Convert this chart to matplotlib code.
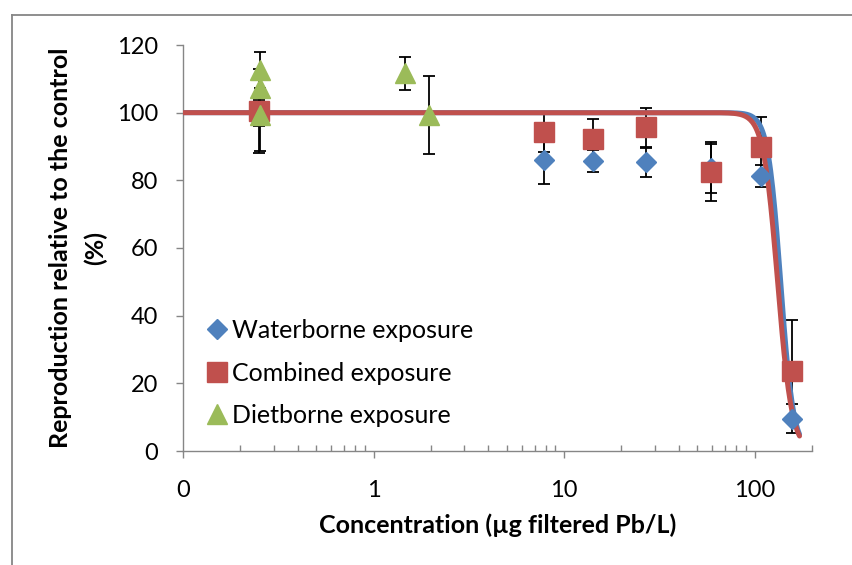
import numpy as np
import matplotlib
matplotlib.use("Agg")
import matplotlib.pyplot as plt
from matplotlib.lines import Line2D
from matplotlib.ticker import FixedLocator, FixedFormatter, NullFormatter

# ---------------- data ----------------
conc = [0.25, 7.8, 14.1, 26.8, 59.2, 108, 157]
water_y = [100, 86.0, 85.7, 85.3, 83.5, 81.3, 9.6]
water_err = [3.8, 7.1, 3.3, 4.4, 7.3, 3.2, 4.4]
comb_y = [100.5, 94.4, 92.1, 95.7, 82.6, 89.8, 23.7]
comb_err = [12.5, 5.9, 5.9, 5.8, 8.8, 8.8, 15.0]
diet_x = [0.254, 0.254, 0.254, 1.46, 1.95]
diet_y = [112.6, 107.2, 99.3, 111.6, 99.3]
diet_err = [5.2, 3.0, 10.6, 4.8, 11.4]

# fitted log-logistic curves (EC50, slope)
water_ec50, water_slope = 137.0, 13.0
comb_ec50, comb_slope = 132.0, 11.6
curve_start, curve_end = 0.1, 172.0

xtick_vals = [0.1, 1, 10, 100]
xtick_labels = ["0", "1", "10", "100"]
ytick_vals = [0, 20, 40, 60, 80, 100, 120]
labels = ["Waterborne exposure", "Combined exposure", "Dietborne exposure"]

BLUE = "#4F81BD"
RED = "#C0504D"
GREEN = "#9BBB59"
GRAY = "#868686"

plt.rcParams["font.family"] = ["Lato", "DejaVu Sans"]

fig = plt.figure(figsize=(8.52, 5.65), dpi=100)
ax = fig.add_axes([183 / 852, 1 - 451 / 565, (812 - 183) / 852, (451 - 45) / 565])

# curves
xc = np.logspace(np.log10(curve_start), np.log10(curve_end), 600)
yw = 100 / (1 + (xc / water_ec50) ** water_slope)
yc = 100 / (1 + (xc / comb_ec50) ** comb_slope)
ax.plot(xc, yw, color=BLUE, lw=3.6, zorder=3, solid_capstyle="round")
ax.plot(xc, yc, color=RED, lw=3.6, zorder=4, solid_capstyle="round")

# error bars
ekw = dict(fmt="none", ecolor="black", elinewidth=1.3, capsize=4, capthick=1.3, zorder=2)
ax.errorbar(conc, water_y, yerr=water_err, **ekw)
ax.errorbar(conc, comb_y, yerr=comb_err, **ekw)
ax.errorbar(diet_x, diet_y, yerr=diet_err, **ekw)

# markers
ax.plot(conc, water_y, ls="none", marker="D", ms=10.5, color=BLUE, mec=BLUE, zorder=5)
ax.plot(conc, comb_y, ls="none", marker="s", ms=14, color=RED, mec=RED, zorder=6)
ax.plot(diet_x, diet_y, ls="none", marker="^", ms=15, color=GREEN, mec=GREEN, zorder=7)

ax.set_xscale("log")
ax.set_xlim(0.1, 200)
ax.set_ylim(0, 120)

ax.xaxis.set_major_locator(FixedLocator(xtick_vals))
ax.xaxis.set_major_formatter(FixedFormatter(xtick_labels))
minor = [m * 10.0 ** e for e in (-1, 0, 1) for m in range(2, 10)] + [200]
ax.xaxis.set_minor_locator(FixedLocator(minor))
ax.xaxis.set_minor_formatter(NullFormatter())
ax.set_yticks(ytick_vals)

for s in ("top", "right"):
    ax.spines[s].set_visible(False)
for s in ("left", "bottom"):
    ax.spines[s].set_color(GRAY)
    ax.spines[s].set_linewidth(1.0)

ax.tick_params(axis="x", which="major", direction="out", length=5, width=1.0,
               color=GRAY, labelsize=17, pad=16)
ax.tick_params(axis="x", which="minor", direction="in", length=4.5, width=1.0, color=GRAY)
ax.tick_params(axis="y", which="major", direction="out", length=5, width=1.0,
               color=GRAY, labelsize=17, pad=13)

ax.set_xlabel("Concentration (µg filtered Pb/L)", fontsize=18, fontweight="bold", labelpad=9)
ax.set_ylabel("Reproduction relative to the control\n(%)", fontsize=18,
              fontweight="bold", labelpad=7, linespacing=1.6)

handles = [
    Line2D([], [], ls="none", marker="D", ms=10.5, color=BLUE),
    Line2D([], [], ls="none", marker="s", ms=14, color=RED),
    Line2D([], [], ls="none", marker="^", ms=15, color=GREEN),
]
ax.legend(handles, labels, loc="lower left", bbox_to_anchor=(0.01, 0.016),
          frameon=False, fontsize=18, handlelength=0.8, handletextpad=0.2,
          labelspacing=0.78, borderaxespad=0.3)

# outer chart border (left and top edges visible)
fig.add_artist(Line2D([12 / 852, 12 / 852], [0, 1 - 15 / 565], color=GRAY, lw=1.3,
                      transform=fig.transFigure))
fig.add_artist(Line2D([12 / 852, 1], [1 - 15 / 565, 1 - 15 / 565], color=GRAY, lw=1.3,
                      transform=fig.transFigure))

fig.savefig("out.png", dpi=100)
